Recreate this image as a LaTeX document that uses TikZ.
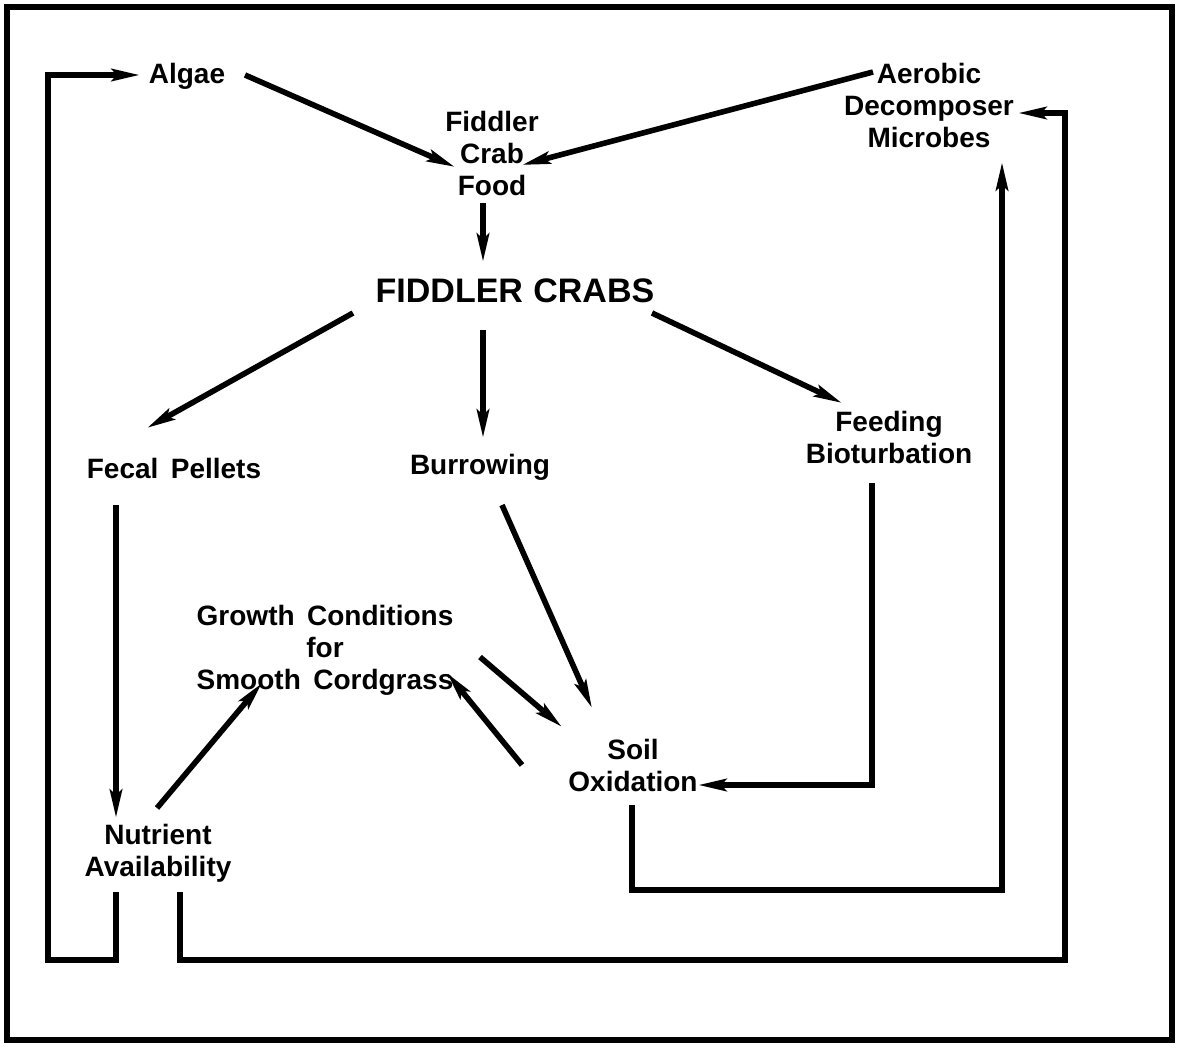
\documentclass[tikz,border=0pt]{standalone}
\usepackage{fontspec}
\setmainfont{Liberation Sans}[WordSpace=1.6]
\newfontfamily\titlefont{Liberation Sans}[WordSpace=1.1]
\usetikzlibrary{arrows.meta,calc}
\begin{document}
\begin{tikzpicture}[x=0.5pt,y=-0.5pt,
  lbl/.style={font=\bfseries\fontsize{14}{16}\selectfont, align=center, inner sep=0pt},
  big/.style={font=\titlefont\bfseries\fontsize{17}{18}\selectfont, align=center, inner sep=0pt},
  arr/.style={line width=2.8pt, -{Stealth[length=14pt,width=6pt,inset=2.5pt]}},
  ln/.style={line width=2.8pt}]
\useasboundingbox (0,0) rectangle (1177,1044);
\fill[white] (0,0) rectangle (1177,1044);
\draw[ln] (7,7) rectangle (1172,1040);

\node[lbl] (algae) at (187,76) {Algae};
\node[lbl] (food) at (492,153) {Fiddler\\Crab\\Food};
\node[lbl] (aerobic) at (929,105) {Aerobic\\Decomposer\\Microbes};
\node[big] (crabs) at (515,291) {FIDDLER CRABS};
\node[lbl] (fecal) at (174,468) {Fecal Pellets};
\node[lbl] (burrow) at (480,467) {Burrowing};
\node[lbl] (feeding) at (889,437) {Feeding\\Bioturbation};
\node[lbl] (growth) at (325,650) {Growth Conditions\\for\\Smooth Cordgrass};
\node[lbl] (soil) at (633,765) {Soil\\Oxidation};
\node[lbl] (nutrient) at (158,853) {Nutrient\\Availability};

\draw[arr] ($(algae)+(58,-1)$) -- ($(food)+(-37,14)$);
\draw[arr] ($(aerobic)+(-56,-33)$) -- ($(food)+(30,12)$);
\draw[arr] ($(food)+(-9,50)$) -- ($(crabs)+(-32,-29)$);
\draw[arr] ($(crabs)+(-162,22)$) -- ($(fecal)+(-27,-40)$);
\draw[arr] ($(crabs)+(-32,39)$) -- ($(burrow)+(3,-29)$);
\draw[arr] ($(crabs)+(137,22)$) -- ($(feeding)+(-47,-34)$);
\draw[arr] ($(fecal)+(-58,37)$) -- ($(nutrient)+(-42,-35)$);
\draw[arr] ($(nutrient)+(-1,-45)$) -- ($(growth)+(-63,33)$);
\draw[arr] ($(burrow)+(22,38)$) -- ($(soil)+(-41,-57)$);
\draw[arr] ($(growth)+(155,7)$) -- ($(soil)+(-71,-38)$);
\draw[arr] ($(soil)+(-111,0)$) -- ($(growth)+(122,23)$);
\draw[arr] ($(feeding)+(-17,46)$) |- ($(soil)+(65,20)$);
\draw[arr] ($(soil)+(-1,40)$) -- ++(0,85) -| ($(aerobic)+(73,57)$);
\draw[arr] ($(nutrient)+(-42,39)$) -- ++(0,68) -- ++(-68,0) |- ($(algae)+(-47,-1)$);
\draw[arr] ($(nutrient)+(22,39)$) -- ++(0,68) -- ++(885,0) |- ($(aerobic)+(89,8)$);
\end{tikzpicture}
\end{document}
